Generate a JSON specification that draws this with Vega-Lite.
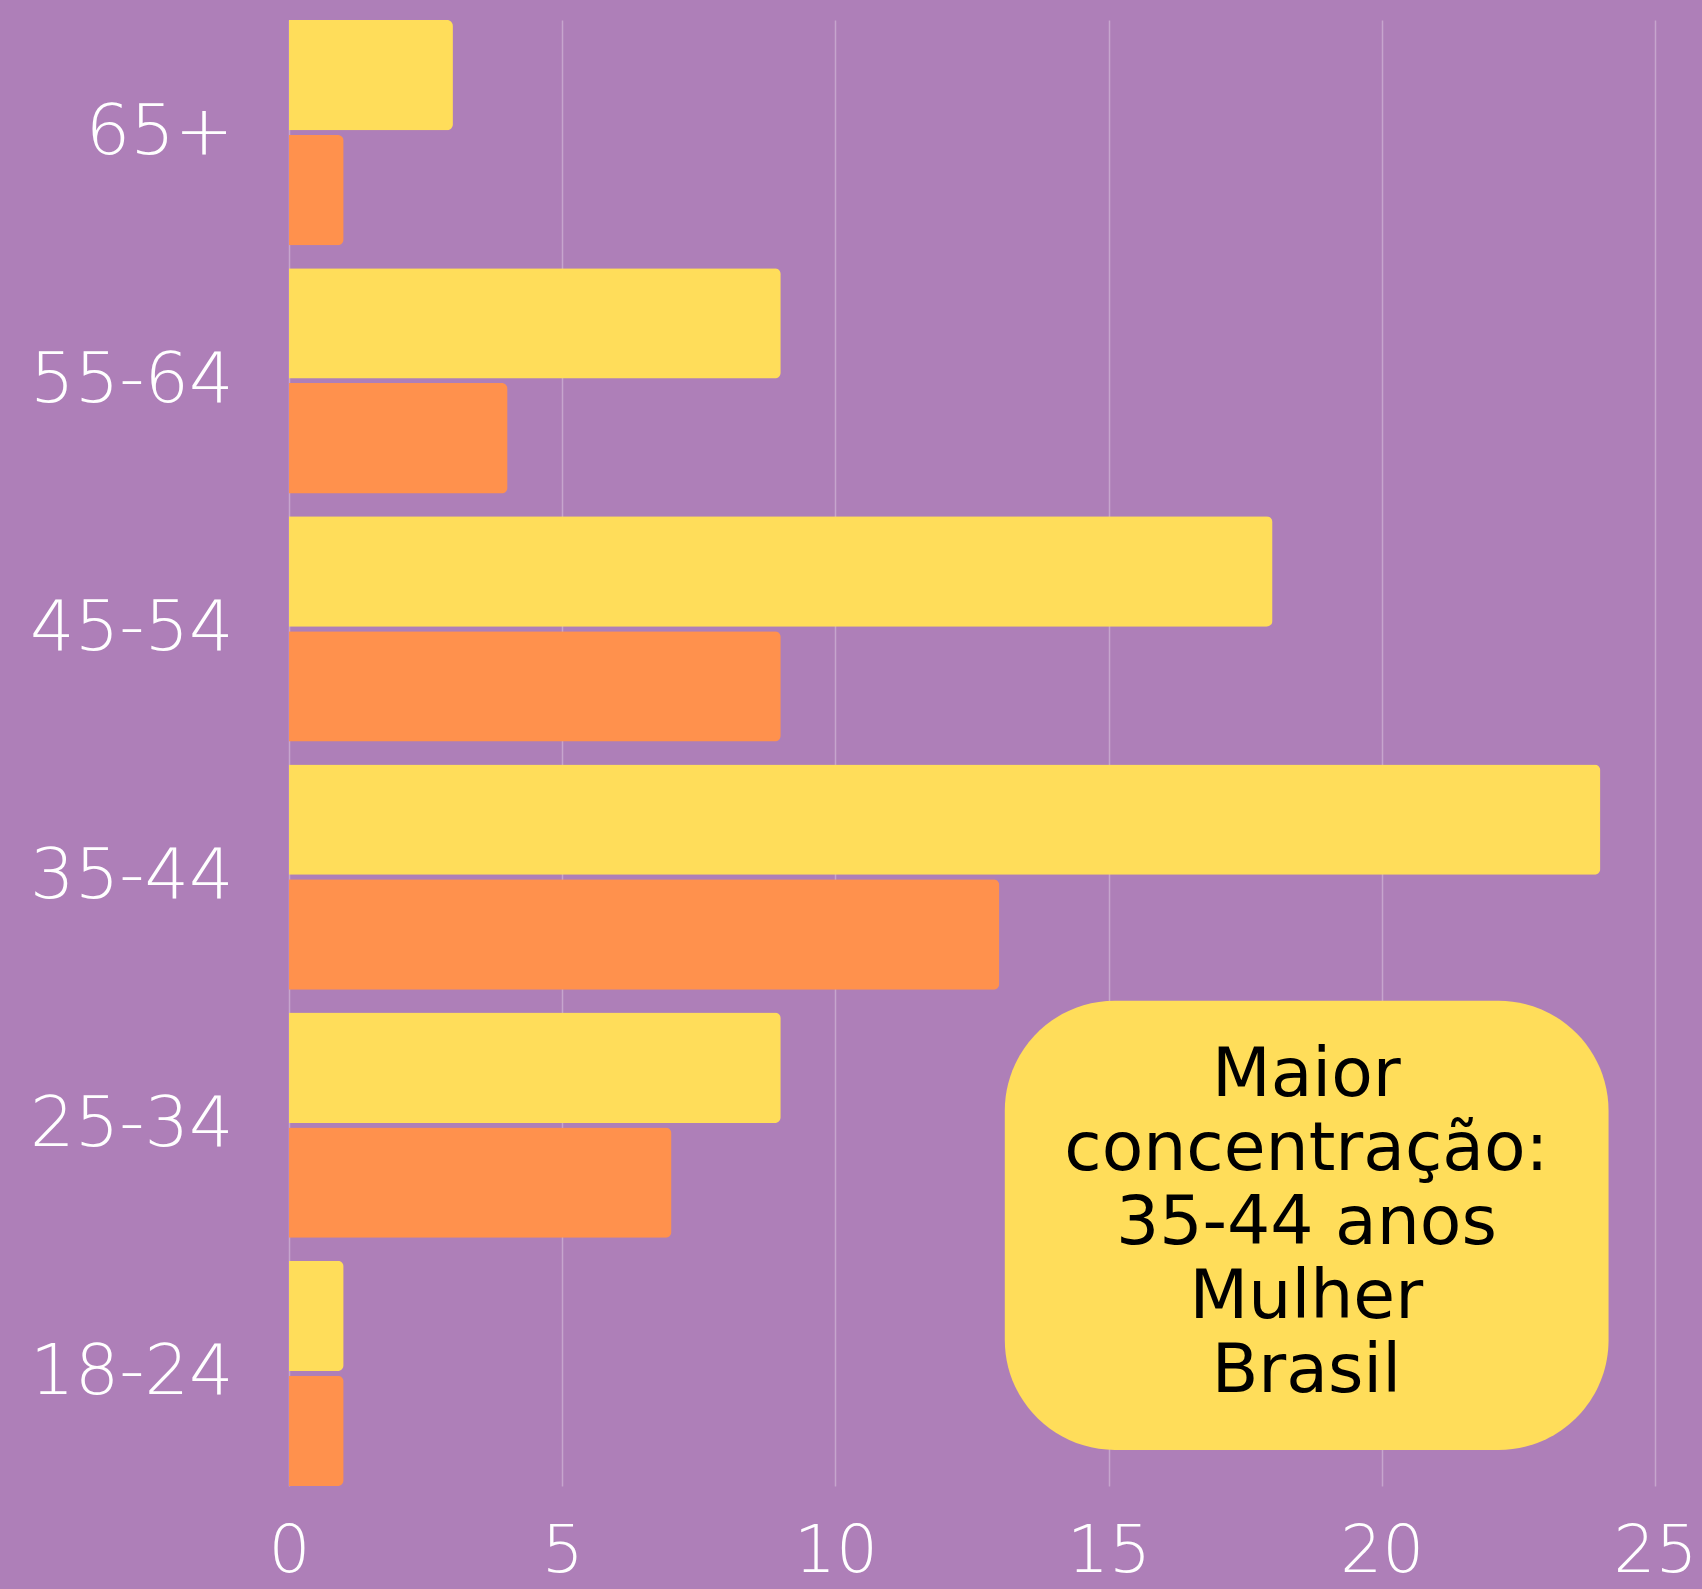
{
  "$schema": "https://vega.github.io/schema/vega-lite/v6.json",
  "width": 1366,
  "height": 1466,
  "autosize": {"type": "none"},
  "padding": {"left": 289, "top": 20, "right": 47, "bottom": 103},
  "background": "#AE7FB8",
  "config": {"view": {"stroke": null}, "font": "DejaVu Sans"},
  "layer": [
    {
      "data": {
        "values": [
          {"faixa": "65+", "grupo": "Mulher", "valor": 3},
          {"faixa": "65+", "grupo": "Homem", "valor": 1},
          {"faixa": "55-64", "grupo": "Mulher", "valor": 9},
          {"faixa": "55-64", "grupo": "Homem", "valor": 4},
          {"faixa": "45-54", "grupo": "Mulher", "valor": 18},
          {"faixa": "45-54", "grupo": "Homem", "valor": 9},
          {"faixa": "35-44", "grupo": "Mulher", "valor": 24},
          {"faixa": "35-44", "grupo": "Homem", "valor": 13},
          {"faixa": "25-34", "grupo": "Mulher", "valor": 9},
          {"faixa": "25-34", "grupo": "Homem", "valor": 7},
          {"faixa": "18-24", "grupo": "Mulher", "valor": 1},
          {"faixa": "18-24", "grupo": "Homem", "valor": 1}
        ]
      },
      "mark": {"type": "bar", "cornerRadiusEnd": 6},
      "encoding": {
        "y": {
          "field": "faixa",
          "type": "nominal",
          "sort": ["65+", "55-64", "45-54", "35-44", "25-34", "18-24"],
          "scale": {"paddingInner": 0.092, "paddingOuter": 0},
          "axis": {
            "title": null,
            "domain": false,
            "ticks": false,
            "labelFontSize": 70,
            "labelColor": "white",
            "labelFont": "DejaVu Sans",
            "labelFontWeight": 200,
            "labelPadding": 56,
            "labelLimit": 0
          }
        },
        "yOffset": {
          "field": "grupo",
          "sort": ["Mulher", "Homem"],
          "scale": {"paddingInner": 0.04}
        },
        "x": {
          "field": "valor",
          "type": "quantitative",
          "scale": {"domain": [0, 25], "nice": false},
          "axis": {
            "title": null,
            "values": [0, 5, 10, 15, 20, 25],
            "domain": false,
            "ticks": false,
            "grid": true,
            "gridColor": "white",
            "gridOpacity": 0.3,
            "gridWidth": 1.5,
            "labelFontSize": 66,
            "labelColor": "white",
            "labelFont": "DejaVu Sans",
            "labelFontWeight": 200,
            "labelPadding": 33,
            "labelBaseline": "top",
            "labelFlush": false
          }
        },
        "color": {
          "field": "grupo",
          "scale": {"domain": ["Mulher", "Homem"], "range": ["#FFDD5A", "#FF914D"]},
          "legend": null
        }
      }
    },
    {
      "data": {"values": [{"nota": "Maior concentração"}]},
      "mark": {"type": "rect", "color": "#FFDD5A", "cornerRadius": 110},
      "encoding": {
        "x": {"datum": 13.1, "type": "quantitative"},
        "x2": {"datum": 24.15},
        "y": {"datum": 0.331, "type": "quantitative", "scale": {"domain": [0, 1], "nice": false}, "axis": null},
        "y2": {"datum": 0.0246}
      }
    },
    {
      "data": {"values": [{"nota": ["Maior", "concentração:", "35-44 anos", "Mulher", "Brasil"]}]},
      "mark": {"type": "text", "align": "center", "baseline": "middle", "fontSize": 68, "lineHeight": 74, "color": "black", "font": "DejaVu Sans"},
      "encoding": {
        "text": {"field": "nota"},
        "x": {"datum": 18.62, "type": "quantitative"},
        "y": {"datum": 0.28, "type": "quantitative", "scale": {"domain": [0, 1], "nice": false}, "axis": null}
      }
    }
  ],
  "resolve": {"scale": {"y": "independent"}}
}
